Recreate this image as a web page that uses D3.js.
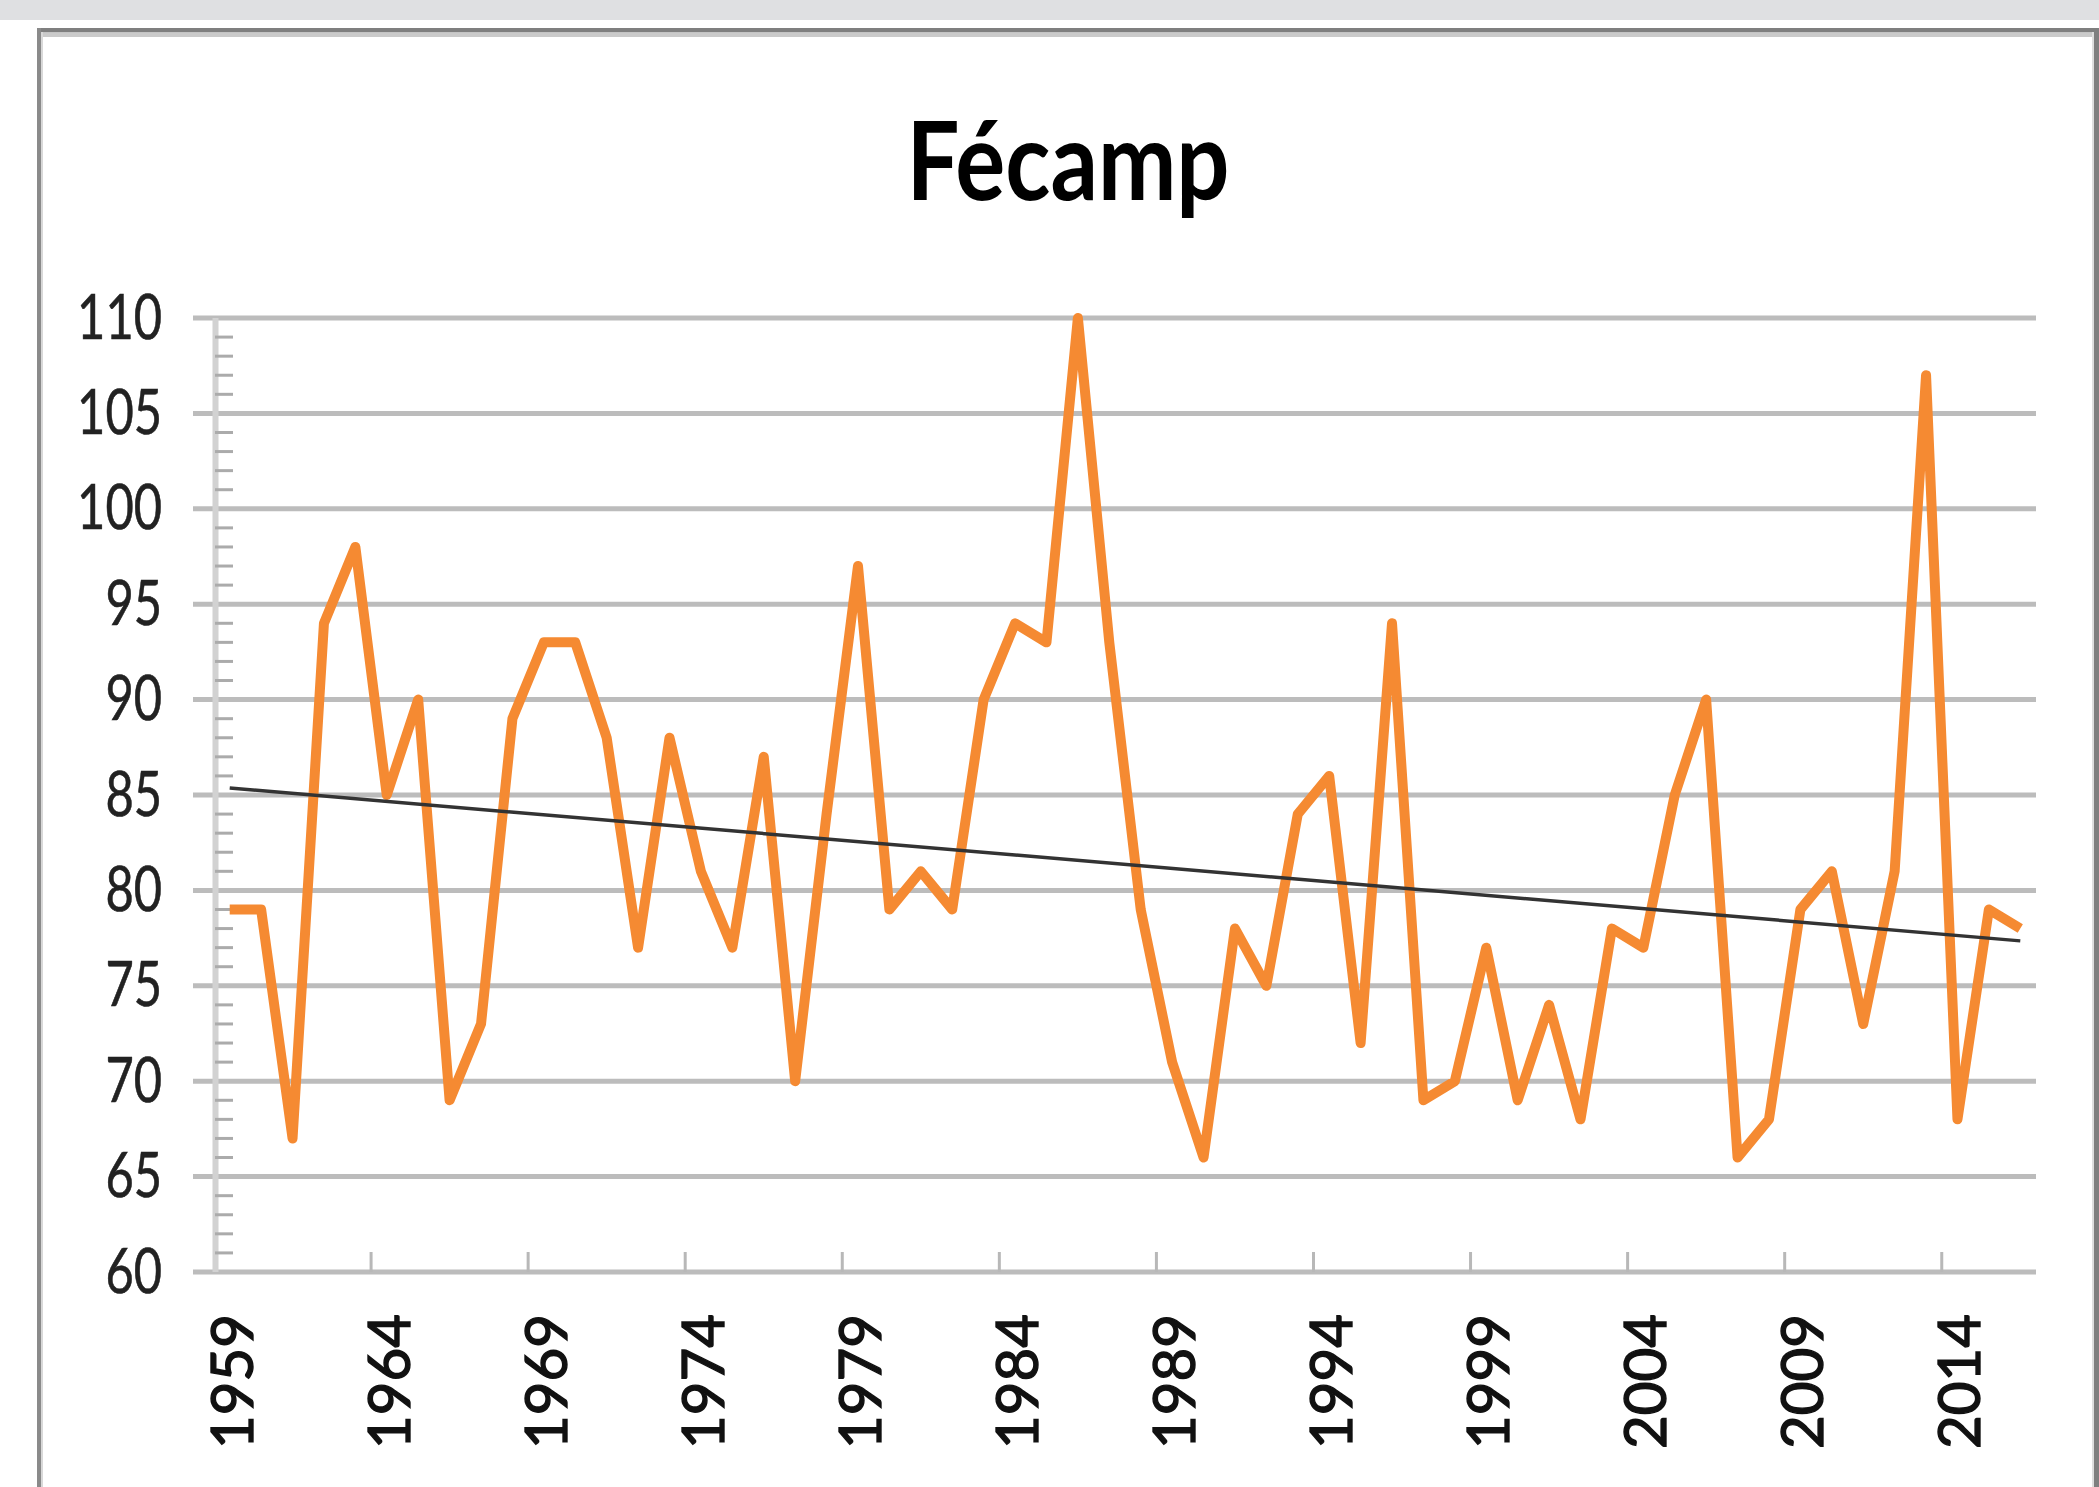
<!DOCTYPE html>
<html>
  <head>
    <meta charset="utf-8" />
    <title>Fécamp</title>
    <style>
      body {
        margin: 0;
        background: #fff;
      }
      svg text {
        font-family: Lato, "Open Sans", sans-serif;
      }
    </style>
    <script src="https://d3js.org/d3.v7.min.js"></script>
  </head>
  <body>
    <div id="chart"></div>
    <script>
      // data
      var chartTitle = "Fécamp";
      var years = d3.range(1959, 2017);
      var values = [
        79, 79, 67, 94, 98, 85, 90, 69, 73, 89,
        93, 93, 88, 77, 88, 81, 77, 87, 70, 84,
        97, 79, 81, 79, 90, 94, 93, 110, 93, 79,
        71, 66, 78, 75, 84, 86, 72, 94, 69, 70,
        77, 69, 74, 68, 78, 77, 85, 90, 66, 68,
        79, 81, 73, 81, 107, 68, 79, 78
      ];
      var yTicks = [60, 65, 70, 75, 80, 85, 90, 95, 100, 105, 110];
      var xLabels = [1959, 1964, 1969, 1974, 1979, 1984, 1989, 1994, 1999, 2004, 2009, 2014];

      var W = 2099, H = 1487;
      var plot = { left: 214, right: 2036, top: 318, bottom: 1272 };

      var svg = d3.select("#chart").append("svg")
        .attr("width", W)
        .attr("height", H);

      // window chrome + chart frame
      svg.append("rect").attr("x", 0).attr("y", 0).attr("width", W).attr("height", 20).attr("fill", "#dfe0e2");
      svg.append("rect").attr("x", 37).attr("y", 28).attr("width", W - 37).attr("height", 4.5).attr("fill", "#7f7f7f");
      svg.append("rect").attr("x", 41).attr("y", 32.5).attr("width", W - 41 - 7).attr("height", 4.5).attr("fill", "#cacaca");
      svg.append("rect").attr("x", 37).attr("y", 28).attr("width", 4).attr("height", H).attr("fill", "#8a8a8a");
      svg.append("rect").attr("x", 41).attr("y", 32).attr("width", 2).attr("height", H).attr("fill", "#d8d8d8");
      svg.append("rect").attr("x", 2092).attr("y", 32).attr("width", 2).attr("height", H).attr("fill", "#dedede");
      svg.append("rect").attr("x", 2094).attr("y", 28).attr("width", 5).attr("height", H).attr("fill", "#7f7f7f");

      var x = d3.scaleBand().domain(years).range([plot.left, plot.right]);
      var y = d3.scaleLinear().domain([60, 110]).range([plot.bottom, plot.top]);
      var cx = function (yr) { return x(yr) + x.bandwidth() / 2; };

      // title
      svg.append("text")
        .attr("x", 906.5)
        .attr("y", 200)
        .attr("font-size", 109)
        .attr("font-weight", "bold")
        .attr("fill", "#000")
        .attr("textLength", 323)
        .attr("lengthAdjust", "spacingAndGlyphs")
        .text(chartTitle);

      // horizontal gridlines (extend left as major ticks)
      svg.append("g").selectAll("line")
        .data(yTicks)
        .join("line")
        .attr("x1", 193)
        .attr("x2", plot.right)
        .attr("y1", d => y(d))
        .attr("y2", d => y(d))
        .attr("stroke", "#bcbcbc")
        .attr("stroke-width", 5);

      // y axis line + minor ticks
      svg.append("line")
        .attr("x1", 215.5).attr("x2", 215.5)
        .attr("y1", y(110)).attr("y2", y(60))
        .attr("stroke", "#d2d2d2")
        .attr("stroke-width", 6);

      var minor = d3.range(61, 110).filter(d => d % 5 !== 0);
      svg.append("g").selectAll("line")
        .data(minor)
        .join("line")
        .attr("x1", 215).attr("x2", 233)
        .attr("y1", d => y(d)).attr("y2", d => y(d))
        .attr("stroke", "#ababab")
        .attr("stroke-width", 3);

      // y labels via axis
      var yAxis = svg.append("g")
        .attr("transform", "translate(" + plot.left + ",0)")
        .call(d3.axisLeft(y).tickValues(yTicks).tickSize(0).tickPadding(0));
      yAxis.select(".domain").remove();
      yAxis.selectAll("text")
        .attr("text-anchor", "start")
        .attr("font-size", 62)
        .attr("fill", "#222")
        .attr("stroke", "#222")
        .attr("stroke-width", 0.6)
        .attr("dy", 20)
        .attr("x", d => 162 - plot.left - 28.3 * String(d).length)
        .attr("textLength", d => 28.3 * String(d).length)
        .attr("lengthAdjust", "spacingAndGlyphs");

      // x ticks at category boundaries every 5 years
      svg.append("g").selectAll("line")
        .data(xLabels.slice(1))
        .join("line")
        .attr("x1", d => x(d)).attr("x2", d => x(d))
        .attr("y1", plot.bottom - 20).attr("y2", plot.bottom)
        .attr("stroke", "#b8b8b8")
        .attr("stroke-width", 3);

      // x labels, rotated
      svg.append("g").selectAll("text")
        .data(xLabels)
        .join("text")
        .attr("transform", d => "translate(" + (cx(d) + 2) + ",1314) rotate(-90)")
        .attr("x", -135)
        .attr("y", 21)
        .attr("font-size", 58.5)
        .attr("fill", "#111")
        .attr("stroke", "#111")
        .attr("stroke-width", 1.4)
        .attr("textLength", 135)
        .attr("lengthAdjust", "spacingAndGlyphs")
        .text(d => d);

      // data line
      var line = d3.line()
        .x((d, i) => cx(years[i]))
        .y(d => y(d));
      svg.append("path")
        .datum(values)
        .attr("d", line)
        .attr("fill", "none")
        .attr("stroke", "#f58a32")
        .attr("stroke-width", 10)
        .attr("stroke-linejoin", "round");

      // linear trend
      var n = values.length;
      var mx = d3.mean(d3.range(n)), my = d3.mean(values);
      var slope = d3.sum(values, (v, i) => (i - mx) * (v - my)) / d3.sum(d3.range(n), i => (i - mx) * (i - mx));
      var icpt = my - slope * mx;
      svg.append("line")
        .attr("x1", cx(years[0])).attr("y1", y(icpt))
        .attr("x2", cx(years[n - 1])).attr("y2", y(icpt + slope * (n - 1)))
        .attr("stroke", "#333")
        .attr("stroke-width", 3.5);
    </script>
  </body>
</html>
